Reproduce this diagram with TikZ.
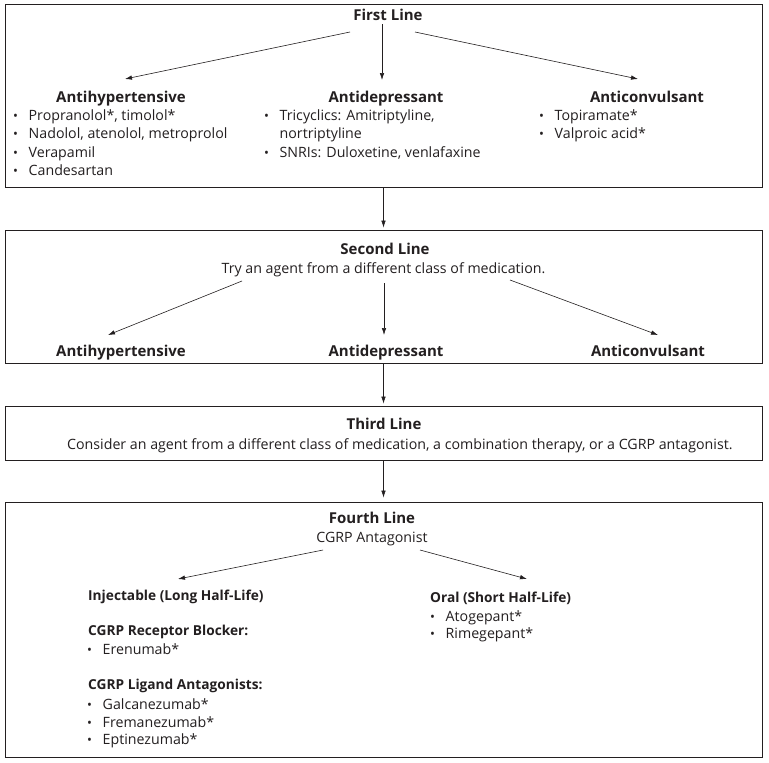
\documentclass[tikz,border=0pt]{standalone}
\usepackage{fontspec}
\setmainfont{Open Sans}
\usetikzlibrary{arrows.meta}
\definecolor{ink}{HTML}{231F20}
\newcommand\bul{\makebox[15.5pt][l]{\raisebox{0pt}{\fontsize{13}{13}\selectfont\textbullet}}}
\begin{document}
\begin{tikzpicture}[x=1pt,y=-1pt,
  box/.style={draw=ink, line width=0.8pt, rectangle, inner sep=0pt},
  head/.style={font=\fontsize{15}{17}\selectfont\bfseries, text=ink, inner sep=0pt, anchor=base},
  subhead/.style={font=\fontsize{13.7}{16}\selectfont\bfseries, text=ink, inner sep=0pt, anchor=base west},
  sub/.style={font=\fontsize{14.2}{16}\selectfont, text=ink, inner sep=0pt, anchor=base},
  item/.style={font=\fontsize{14.2}{16}\selectfont, text=ink, inner sep=0pt, anchor=base west},
  arr/.style={draw=ink, line width=0.6pt, -{Latex[length=7pt,width=4.5pt]}},
]
\useasboundingbox (0,0) rectangle (769,763);
\fill[white] (0,0) rectangle (769,763);

% ---------- Box 1 ----------
\node[box, minimum width=757pt, minimum height=183pt] (b1) at (383.5,95.5) {};
\node[head] (first) at (388,20) {First Line};
\node[head] (antihyp1) at (121,102) {Antihypertensive};
\node[head] (antidep1) at (386,102) {Antidepressant};
\node[head] (anticonv1) at (647,102) {Anticonvulsant};
\node[item] (h1) at (13,120) {\bul Propranolol*, timolol*};
\node[item] (h2) at (13,138.5) {\bul Nadolol, atenolol, metroprolol};
\node[item] (h3) at (13,157) {\bul Verapamil};
\node[item] (h4) at (13,175.5) {\bul Candesartan};
\node[item] (d1) at (264,120) {\bul Tricyclics: Amitriptyline,};
\node[item] (d1b) at (279.5,138.5) {nortriptyline};
\node[item] (d2) at (264,157) {\bul SNRIs: Duloxetine, venlafaxine};
\node[item] (c1) at (539,120) {\bul Topiramate*};
\node[item] (c2) at (539,138.5) {\bul Valproic acid*};
\coordinate (f1s) at (350,32);
\coordinate (f1t) at (125,79);
\coordinate (f2s) at (382,24);
\coordinate (f2t) at (382,80);
\coordinate (f3s) at (415,32);
\coordinate (f3t) at (638,79);
\draw[arr] (f1s) -- (f1t);
\draw[arr] (f2s) -- (f2t);
\draw[arr] (f3s) -- (f3t);

% ---------- Box 2 ----------
\node[box, minimum width=757pt, minimum height=133pt] (b2) at (383.5,296.5) {};
\node[head] (second) at (385,254) {Second Line};
\node[sub] (secondsub) at (383.5,273) {Try an agent from a different class of medication.};
\node[head] (antihyp2) at (121,356) {Antihypertensive};
\node[head] (antidep2) at (386,356) {Antidepressant};
\node[head] (anticonv2) at (648,356) {Anticonvulsant};
\coordinate (s1s) at (242,281);
\coordinate (s1t) at (108,335);
\coordinate (s2s) at (384,283);
\coordinate (s2t) at (384,335);
\coordinate (s3s) at (510,280);
\coordinate (s3t) at (658,335);
\draw[arr] (s1s) -- (s1t);
\draw[arr] (s2s) -- (s2t);
\draw[arr] (s3s) -- (s3t);

% ---------- Box 3 ----------
\node[box, minimum width=757pt, minimum height=54pt] (b3) at (383.5,433) {};
\node[head] (third) at (384,429) {Third Line};
\node[item] (thirdsub) at (67,449) {Consider an agent from a different class of medication, a combination therapy, or a CGRP antagonist.};

% ---------- Box 4 ----------
\node[box, minimum width=757pt, minimum height=255pt] (b4) at (383.5,629.5) {};
\node[head] (fourth) at (372,523) {Fourth Line};
\node[sub] (fourthsub) at (372,542) {CGRP Antagonist};
\node[subhead] (inj) at (88,600) {Injectable (Long Half-Life)};
\node[subhead] (rec) at (88,635) {CGRP Receptor Blocker:};
\node[item] (e1) at (87,654) {\bul Erenumab*};
\node[subhead] (lig) at (88,689) {CGRP Ligand Antagonists:};
\node[item] (g1) at (87,709) {\bul Galcanezumab*};
\node[item] (g2) at (87,727) {\bul Fremanezumab*};
\node[item] (g3) at (87,744.5) {\bul Eptinezumab*};
\node[subhead] (oral) at (430,602) {Oral (Short Half-Life)};
\node[item] (o1) at (430,621) {\bul Atogepant*};
\node[item] (o2) at (430,638) {\bul Rimegepant*};
\coordinate (q1s) at (323,550);
\coordinate (q1t) at (178,579);
\coordinate (q2s) at (420,550);
\coordinate (q2t) at (527,579);
\draw[arr] (q1s) -- (q1t);
\draw[arr] (q2s) -- (q2t);

% ---------- between boxes ----------
\draw[arr, shorten >=2pt] (b1.south) -- (b2.north);
\draw[arr, shorten >=2pt] (b2.south) -- (b3.north);
\draw[arr, shorten >=4pt] (b3.south) -- (b4.north);
\end{tikzpicture}
\end{document}
